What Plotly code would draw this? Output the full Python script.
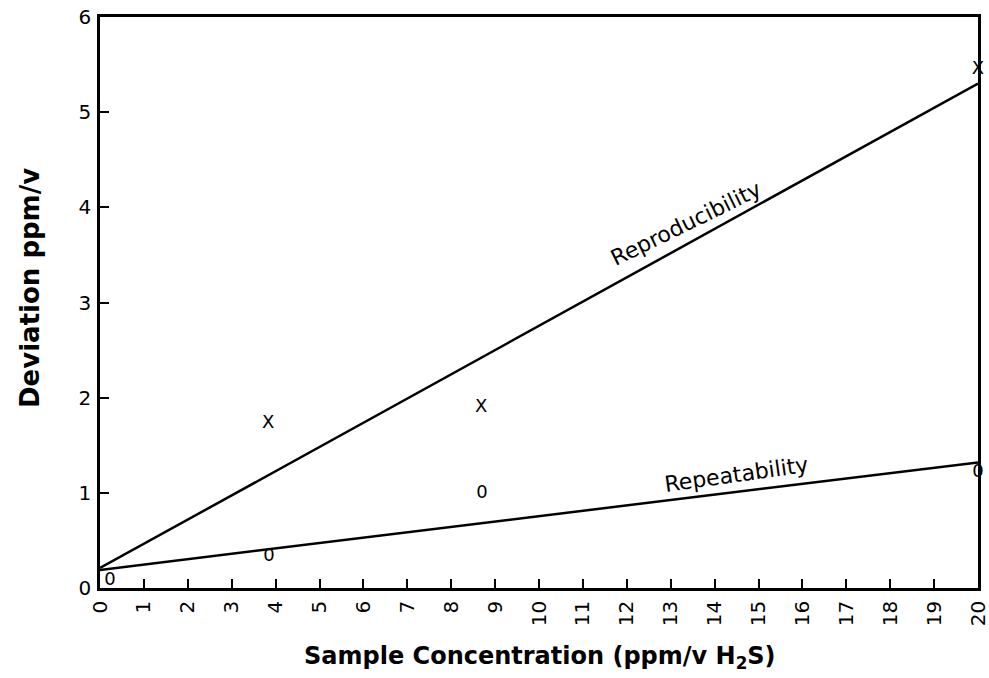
import plotly.graph_objects as go

# Data
line_x = [0, 20]
reproducibility_y = [0.21, 5.30]
repeatability_y = [0.19, 1.32]

repro_pts_x = [3.83, 8.68, 20.0]
repro_pts_y = [1.73, 1.90, 5.45]
repeat_pts_x = [0.23, 3.85, 8.70, 20.0]
repeat_pts_y = [0.08, 0.33, 0.99, 1.21]

x_ticks = list(range(0, 21))
y_ticks = list(range(0, 7))

FONT = "DejaVu Sans"

fig = go.Figure()
fig.add_trace(go.Scatter(x=line_x, y=reproducibility_y, mode="lines",
                         line=dict(color="black", width=2.5), showlegend=False,
                         cliponaxis=False))
fig.add_trace(go.Scatter(x=line_x, y=repeatability_y, mode="lines",
                         line=dict(color="black", width=2.5), showlegend=False,
                         cliponaxis=False))
fig.add_trace(go.Scatter(x=repro_pts_x, y=repro_pts_y, mode="text",
                         text=["X"] * len(repro_pts_x),
                         textfont=dict(family=FONT, size=18, color="black"),
                         showlegend=False, cliponaxis=False))
fig.add_trace(go.Scatter(x=repeat_pts_x, y=repeat_pts_y, mode="text",
                         text=["0"] * len(repeat_pts_x),
                         textfont=dict(family=FONT, size=18, color="black"),
                         showlegend=False, cliponaxis=False))

fig.add_annotation(x=13.35, y=3.83, text="Reproducibility", showarrow=False,
                   textangle=-26, font=dict(family=FONT, size=22, color="black"))
fig.add_annotation(x=14.49, y=1.19, text="Repeatability", showarrow=False,
                   textangle=-8, font=dict(family=FONT, size=22, color="black"))

fig.add_annotation(xref="paper", yref="paper", x=0.501, y=-0.121,
                   xanchor="center", yanchor="middle", showarrow=False,
                   text="<b>Sample Concentration (ppm/v H<sub>2</sub>S)</b>",
                   font=dict(family=FONT, size=24, color="black"))
fig.add_annotation(xref="paper", yref="paper", x=-0.080, y=0.525,
                   xanchor="center", yanchor="middle", showarrow=False,
                   textangle=-90, text="<b>Deviation ppm/v</b>",
                   font=dict(family=FONT, size=26, color="black"))

fig.update_layout(
    width=989, height=678,
    margin=dict(l=100, r=11, t=17, b=90),
    plot_bgcolor="white", paper_bgcolor="white",
    font=dict(family=FONT, color="black"),
)
fig.update_xaxes(
    range=[0, 20], tickvals=x_ticks, ticktext=[str(v) for v in x_ticks],
    tickangle=-90, ticks="inside", ticklen=9, tickwidth=2, tickcolor="black",
    showline=True, linecolor="black", linewidth=2.5, mirror=True,
    showgrid=False, zeroline=False, tickfont=dict(family=FONT, size=20),
    automargin=False, ticklabelstandoff=2, ticklabeloverflow="allow",
)
fig.update_yaxes(
    range=[0, 6], tickvals=y_ticks, ticktext=[str(v) for v in y_ticks],
    ticks="inside", ticklen=9, tickwidth=2, tickcolor="black",
    showline=True, linecolor="black", linewidth=2.5, mirror=True,
    showgrid=False, zeroline=False, tickfont=dict(family=FONT, size=20),
    automargin=False, ticklabelstandoff=2, ticklabeloverflow="allow",
)

fig.write_html(
    "out.html",
    config={"displayModeBar": False},
    post_script="document.body.style.margin='0';document.body.style.overflow='hidden';",
)
